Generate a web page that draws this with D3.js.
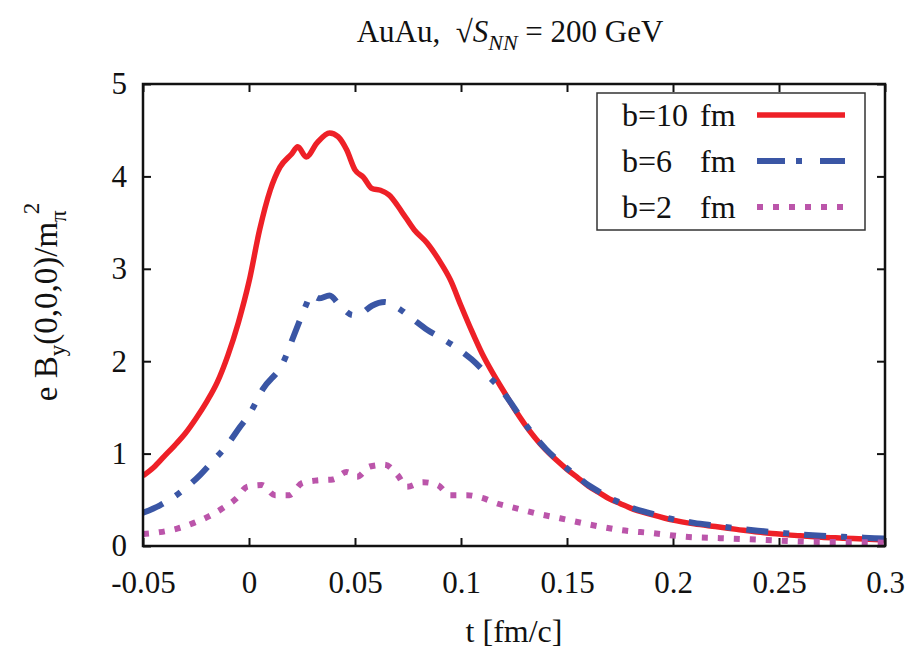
<!DOCTYPE html>
<html>
<head>
<meta charset="utf-8">
<script src="https://cdn.jsdelivr.net/npm/d3@7"></script>
<style>
  body { margin: 0; background: #fff; }
  svg text { font-family: 'Liberation Serif', 'DejaVu Serif', serif; fill: #111; }
</style>
</head>
<body>
<div id="chart"></div>
<script>
// b = 10 fm
const tB10 = [-0.05, -0.045, -0.04, -0.035, -0.03, -0.025, -0.02, -0.015, -0.01, -0.005, 0, 0.005, 0.01, 0.0146, 0.02, 0.023, 0.027, 0.032, 0.038, 0.042, 0.046, 0.05, 0.054, 0.058, 0.062, 0.066, 0.072, 0.078, 0.084, 0.09, 0.095, 0.1, 0.105, 0.11, 0.115, 0.12, 0.125, 0.13, 0.135, 0.14, 0.145, 0.15, 0.155, 0.16, 0.165, 0.17, 0.175, 0.18, 0.19, 0.2, 0.21, 0.22, 0.23, 0.24, 0.25, 0.26, 0.27, 0.28, 0.29, 0.3]
const yB10 = [0.76, 0.85, 0.97, 1.09, 1.22, 1.38, 1.56, 1.77, 2.06, 2.42, 2.86, 3.42, 3.85, 4.1, 4.24, 4.32, 4.21, 4.36, 4.47, 4.43, 4.29, 4.07, 3.99, 3.87, 3.85, 3.8, 3.62, 3.42, 3.28, 3.08, 2.88, 2.6, 2.33, 2.08, 1.87, 1.68, 1.49, 1.32, 1.17, 1.04, 0.93, 0.83, 0.74, 0.65, 0.58, 0.51, 0.46, 0.41, 0.34, 0.28, 0.24, 0.21, 0.18, 0.15, 0.13, 0.11, 0.095, 0.085, 0.075, 0.065]

// b = 6 fm
const tB6 = [-0.05, -0.042, -0.0325, -0.023, -0.017, -0.0104, -0.0042, 0, 0.0066, 0.016, 0.0217, 0.0273, 0.029, 0.033, 0.038, 0.043, 0.049, 0.053, 0.058, 0.064, 0.07, 0.077, 0.084, 0.09, 0.0995, 0.105, 0.11, 0.1137, 0.118, 0.122, 0.125, 0.13, 0.135, 0.14, 0.145, 0.15, 0.155, 0.16, 0.165, 0.17, 0.175, 0.18, 0.19, 0.2, 0.21, 0.22, 0.23, 0.24, 0.25, 0.26, 0.27, 0.28, 0.29, 0.3]
const yB6 = [0.36, 0.44, 0.58, 0.77, 0.92, 1.09, 1.29, 1.42, 1.7, 1.98, 2.31, 2.63, 2.72, 2.68, 2.71, 2.6, 2.5, 2.52, 2.6, 2.64, 2.58, 2.46, 2.34, 2.26, 2.12, 2.02, 1.91, 1.82, 1.72, 1.6, 1.5, 1.33, 1.18, 1.05, 0.94, 0.84, 0.75, 0.66, 0.59, 0.52, 0.47, 0.42, 0.35, 0.29, 0.25, 0.22, 0.19, 0.165, 0.145, 0.125, 0.11, 0.1, 0.09, 0.08]

// b = 2 fm
const tB2 = [-0.05, -0.042, -0.0335, -0.026, -0.019, -0.0123, -0.0057, -0.001, 0.006, 0.0123, 0.019, 0.025, 0.032, 0.0396, 0.046, 0.051, 0.057, 0.064, 0.07, 0.0745, 0.082, 0.089, 0.0948, 0.1028, 0.11, 0.117, 0.124, 0.138, 0.1467, 0.161, 0.176, 0.19, 0.206, 0.222, 0.244, 0.266, 0.29, 0.3]
const yB2 = [0.13, 0.15, 0.19, 0.25, 0.32, 0.41, 0.52, 0.64, 0.66, 0.55, 0.55, 0.68, 0.71, 0.72, 0.8, 0.75, 0.86, 0.88, 0.77, 0.64, 0.69, 0.66, 0.55, 0.55, 0.52, 0.46, 0.42, 0.34, 0.3, 0.23, 0.17, 0.14, 0.1, 0.085, 0.065, 0.045, 0.04, 0.035]

const xTicks = [-0.05, 0, 0.05, 0.1, 0.15, 0.2, 0.25, 0.3]
const xTickLabels = ['-0.05', '0', '0.05', '0.1', '0.15', '0.2', '0.25', '0.3']
const yTicks = [0, 1, 2, 3, 4, 5]

const seriesNames = ['b=10', 'b=6', 'b=2']
const seriesColors = ['#ee2027', '#3a56a5', '#bb55aa']
const seriesDash = [null, '22,15,6,15', '6,10']

const width = 922
const height = 656
const margin = { top: 84, right: 37, bottom: 110, left: 143 }

const svg = d3.select('#chart')
  .append('svg')
  .attr('width', width)
  .attr('height', height)

const x = d3.scaleLinear().domain([-0.05, 0.3]).range([margin.left, width - margin.right])
const y = d3.scaleLinear().domain([0, 5]).range([height - margin.bottom, margin.top])

// Ejes con marcas hacia dentro
const tickLen = 8
const fmt = d => xTickLabels[xTicks.indexOf(d)]

svg.append('g')
  .attr('transform', `translate(0,${y(0)})`)
  .call(d3.axisBottom(x).tickValues(xTicks).tickSize(-tickLen).tickPadding(25).tickFormat(fmt))
  .call(g => g.select('.domain').remove())
  .call(g => g.selectAll('text').attr('font-size', 31).attr('dy', '0.71em'))

svg.append('g')
  .attr('transform', `translate(0,${y(5)})`)
  .call(d3.axisTop(x).tickValues(xTicks).tickSize(-tickLen).tickFormat(''))
  .call(g => g.select('.domain').remove())

svg.append('g')
  .attr('transform', `translate(${x(-0.05)},0)`)
  .call(d3.axisLeft(y).tickValues(yTicks).tickSize(-tickLen).tickPadding(16).tickFormat(d3.format('d')))
  .call(g => g.select('.domain').remove())
  .call(g => g.selectAll('text').attr('font-size', 31))

svg.append('g')
  .attr('transform', `translate(${x(0.3)},0)`)
  .call(d3.axisRight(y).tickValues(yTicks).tickSize(-tickLen).tickFormat(''))
  .call(g => g.select('.domain').remove())

svg.selectAll('.tick line').attr('stroke', '#111').attr('stroke-width', 2)

// Curvas
const line = d3.line()
  .x(d => x(d[0]))
  .y(d => y(d[1]))
  .curve(d3.curveMonotoneX)

const series = [
  d3.zip(tB10, yB10),
  d3.zip(tB6, yB6),
  d3.zip(tB2, yB2)
]

svg.append('clipPath').attr('id', 'clip')
  .append('rect')
  .attr('x', x(-0.05)).attr('y', y(5))
  .attr('width', x(0.3) - x(-0.05)).attr('height', y(0) - y(5))

const plot = svg.append('g').attr('clip-path', 'url(#clip)')
series.forEach((s, i) => {
  plot.append('path')
    .datum(s)
    .attr('fill', 'none')
    .attr('stroke', seriesColors[i])
    .attr('stroke-width', i === 0 ? 5.5 : 6)
    .attr('stroke-linejoin', 'round')
    .attr('stroke-dasharray', seriesDash[i])
    .attr('d', line)
})

// Marco
svg.append('rect')
  .attr('x', x(-0.05)).attr('y', y(5))
  .attr('width', x(0.3) - x(-0.05)).attr('height', y(0) - y(5))
  .attr('fill', 'none').attr('stroke', '#111').attr('stroke-width', 2.5)

// Leyenda
const legend = svg.append('g').attr('transform', 'translate(597,93)')
legend.append('rect')
  .attr('width', 268).attr('height', 137)
  .attr('fill', '#fff').attr('stroke', '#333').attr('stroke-width', 1.5)

seriesNames.forEach((name, i) => {
  const ly = 22 + i * 46
  legend.append('text').attr('x', 25).attr('y', ly).attr('dy', '0.35em')
    .attr('font-size', 32).text(name)
  legend.append('text').attr('x', 103).attr('y', ly).attr('dy', '0.35em')
    .attr('font-size', 32).text('fm')
  legend.append('line')
    .attr('x1', 160).attr('x2', 248).attr('y1', ly).attr('y2', ly)
    .attr('stroke', seriesColors[i]).attr('stroke-width', i === 0 ? 5.5 : 6)
    .attr('stroke-dasharray', i === 1 ? '28,11,6,18' : seriesDash[i])
})

// Título
const title = svg.append('text')
  .attr('x', 510).attr('y', 42).attr('text-anchor', 'middle').attr('font-size', 31)
title.append('tspan').text('AuAu,\u00A0\u00A0\u221A')
title.append('tspan').attr('font-style', 'italic').text('S')
title.append('tspan').attr('font-style', 'italic').attr('font-size', 22).attr('dy', 8).text('NN')
title.append('tspan').attr('dy', -8).text('\u00A0= 200 GeV')

// Etiquetas de ejes
svg.append('text')
  .attr('x', x(0.125)).attr('y', 642).attr('text-anchor', 'middle')
  .attr('font-size', 32).text('t [fm/c]')

const ylab = svg.append('text')
  .attr('transform', 'translate(57,302) rotate(-90)')
  .attr('text-anchor', 'middle').attr('font-size', 33)
ylab.append('tspan').text('e B')
ylab.append('tspan').attr('font-size', 23).attr('dy', 8).text('y')
ylab.append('tspan').attr('dy', -8).text('(0,0,0)/m')
ylab.append('tspan').attr('font-size', 23).attr('dy', 9).text('\u03C0')
ylab.append('tspan').attr('font-size', 23).attr('dx', -4).attr('dy', -27).text('2')
</script>
</body>
</html>
